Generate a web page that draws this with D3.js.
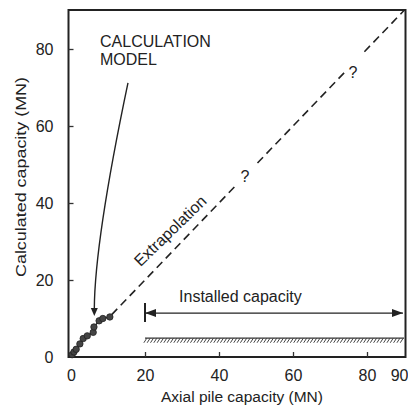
<!DOCTYPE html>
<html>
<head>
<meta charset="utf-8">
<script src="https://cdn.jsdelivr.net/npm/d3@7"></script>
<style>
  body { margin: 0; background: #fff; }
  text { font-family: "Liberation Sans", Arial, Helvetica, sans-serif; fill: #222; }
</style>
</head>
<body>
<div id="main"></div>
<script>
// measured test points (axial capacity, calculated capacity), MN
var testX = [0.3, 0.8, 1.4, 2.4, 3.3, 4.4, 6.0, 6.2, 7.6, 8.6, 10.5];
var testY = [0.6, 1.3, 2.0, 3.4, 4.8, 5.5, 6.4, 7.8, 9.4, 10.0, 10.4];
// extrapolation line and "?" marks
var extrapStart = [11, 11];
var extrapEnd = [90, 90];
var questionAt = [[47, 47], [76.2, 73.9]];
// installed capacity range
var installedRange = [20, 90];
var installedArrowY = 11.4;
var installedBand = [3.7, 4.9];
var xTicks = [0, 20, 40, 60, 80, 90];
var yTicks = [0, 20, 40, 60, 80];

var width = 408, height = 411;
var svg = d3.select("#main").append("svg")
  .attr("width", width).attr("height", height);

var x = d3.scaleLinear().domain([0, 90]).range([71, 404]);
var y = d3.scaleLinear().domain([0, 90]).range([357, 10.5]);

// frame
svg.append("rect")
  .attr("x", 68.5).attr("y", 10)
  .attr("width", 405.5 - 68.5).attr("height", 357 - 10)
  .attr("fill", "none").attr("stroke", "#222").attr("stroke-width", 2);

// axes, ticks pointing inward
var xAxis = svg.append("g")
  .attr("transform", "translate(0,357)")
  .call(d3.axisBottom(x).tickValues(xTicks).tickSize(-5).tickPadding(13));
xAxis.select(".domain").remove();
xAxis.selectAll(".tick line").attr("stroke", "#333").attr("stroke-width", 1.3)
  .attr("opacity", function (d) { return d == 0 || d == 90 ? 0 : 1; });
xAxis.selectAll("text").style("font-size", "16px").attr("fill", "#222")
  .style("font-family", "'Liberation Sans', Arial, sans-serif")
  .attr("text-anchor", function (d) { return d == 90 ? "end" : "middle"; })
  .attr("x", function (d) { return d == 90 ? 4 : 0; });

var yAxis = svg.append("g")
  .attr("transform", "translate(68.5,0)")
  .call(d3.axisLeft(y).tickValues(yTicks).tickSize(-5).tickPadding(15));
yAxis.select(".domain").remove();
yAxis.selectAll(".tick line").attr("stroke", "#333").attr("stroke-width", 1.3)
  .attr("opacity", function (d) { return d == 0 ? 0 : 1; });
yAxis.selectAll("text").style("font-size", "16px").attr("fill", "#222")
  .style("font-family", "'Liberation Sans', Arial, sans-serif");

// axis titles
svg.append("text")
  .attr("x", 242).attr("y", 402)
  .attr("text-anchor", "middle")
  .style("font-size", "15.5px")
  .text("Axial pile capacity (MN)");
svg.append("text")
  .attr("transform", "translate(26,177) rotate(-90)")
  .attr("text-anchor", "middle")
  .style("font-size", "15.5px")
  .attr("textLength", 200).attr("lengthAdjust", "spacingAndGlyphs")
  .text("Calculated capacity (MN)");

// extrapolation dashed line, broken at the "?" marks
var gaps = [47, 76.5];
var segs = [[extrapStart[0], gaps[0] - 2.6], [gaps[0] + 3.4, gaps[1] - 2.2], [gaps[1] + 2.8, extrapEnd[0]]];
segs.forEach(function (s) {
  svg.append("line")
    .attr("x1", x(s[0])).attr("y1", y(s[0] * extrapEnd[1] / extrapEnd[0]))
    .attr("x2", x(s[1])).attr("y2", y(s[1] * extrapEnd[1] / extrapEnd[0]))
    .attr("stroke", "#222").attr("stroke-width", 1.6)
    .attr("stroke-dasharray", "8,5");
});
questionAt.forEach(function (q) {
  svg.append("text")
    .attr("x", x(q[0])).attr("y", y(q[1]) + 6)
    .attr("text-anchor", "middle")
    .style("font-size", "16px")
    .text("?");
});

svg.append("text")
  .attr("transform", "translate(" + (x(27.3) + 2) + "," + (y(32.5) + 3) + ") rotate(-44)")
  .attr("text-anchor", "middle")
  .style("font-size", "16px")
  .text("Extrapolation");

// test data
var pts = d3.zip(testX, testY);
svg.append("path")
  .datum(pts)
  .attr("d", d3.line().x(function (d) { return x(d[0]); }).y(function (d) { return y(d[1]); }))
  .attr("fill", "none").attr("stroke", "#222").attr("stroke-width", 1.4);
svg.selectAll("circle.pt").data(pts).enter().append("circle")
  .attr("class", "pt")
  .attr("cx", function (d) { return x(d[0]); })
  .attr("cy", function (d) { return y(d[1]); })
  .attr("r", 3.2)
  .attr("fill", "#444").attr("stroke", "#222").attr("stroke-width", 0.8);

// calculation model label and pointer
svg.append("text").attr("x", 100).attr("y", 47).style("font-size", "16px").text("CALCULATION");
svg.append("text").attr("x", 100).attr("y", 65).style("font-size", "16px").text("MODEL");
svg.append("path")
  .attr("d", "M" + x(15.4) + "," + y(71.2) + " Q" + x(6.4) + "," + y(30) + " " + x(6.3) + "," + y(12.5))
  .attr("fill", "none").attr("stroke", "#222").attr("stroke-width", 1.4);
svg.append("path")
  .attr("d", "M" + (x(6.3) - 3.5) + "," + (y(12.5) - 1) + " L" + x(6.3) + "," + (y(12.5) + 7) +
    " L" + (x(6.3) + 3.5) + "," + (y(12.5) - 1) + "Z")
  .attr("fill", "#222");

// installed capacity arrow
var ay = y(installedArrowY);
var ax0 = x(installedRange[0]), ax1 = x(installedRange[1]) - 1;
svg.append("line")
  .attr("x1", ax0).attr("y1", ay - 10).attr("x2", ax0).attr("y2", ay + 9)
  .attr("stroke", "#222").attr("stroke-width", 2);
svg.append("line")
  .attr("x1", ax0).attr("y1", ay).attr("x2", ax1).attr("y2", ay)
  .attr("stroke", "#222").attr("stroke-width", 1.4);
svg.append("path")
  .attr("d", "M" + ax0 + "," + ay + " l11,-4 l0,8 Z").attr("fill", "#222");
svg.append("path")
  .attr("d", "M" + ax1 + "," + ay + " l-11,-4 l0,8 Z").attr("fill", "#222");
svg.append("text")
  .attr("x", x(29.2)).attr("y", ay - 11)
  .style("font-size", "16px")
  .text("Installed capacity");

// hatched band
var by0 = y(installedBand[1]), by1 = y(installedBand[0]);
svg.append("line")
  .attr("x1", x(installedRange[0])).attr("y1", by0)
  .attr("x2", x(installedRange[1])).attr("y2", by0)
  .attr("stroke", "#333").attr("stroke-width", 1.2);
var hatchX = d3.range(installedRange[0] + 0.5, installedRange[1], 0.9);
svg.selectAll("line.hatch").data(hatchX).enter().append("line")
  .attr("class", "hatch")
  .attr("x1", function (d) { return x(d) - 3; }).attr("y1", by1)
  .attr("x2", function (d) { return x(d); }).attr("y2", by0)
  .attr("stroke", "#444").attr("stroke-width", 1);
</script>
</body>
</html>
